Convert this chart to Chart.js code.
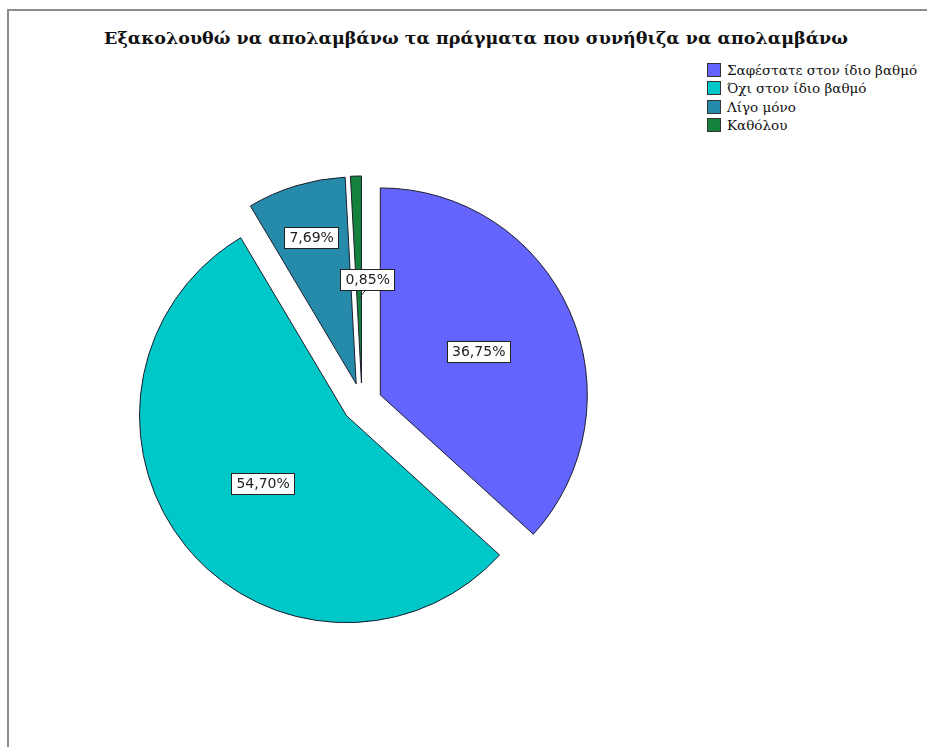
<!DOCTYPE html>
<html>
<head>
<meta charset="utf-8">
<script src="https://cdn.jsdelivr.net/npm/chart.js@4"></script>
<style>
  body { margin: 0; background: #fff; }
  #wrap { position: relative; width: 927px; height: 747px; overflow: hidden; }
  #frame { position: absolute; left: 7px; top: 9px; width: 1000px; height: 1000px;
           border-left: 2px solid #8c8c8c; border-top: 2px solid #8c8c8c; }
  #title { position: absolute; left: 0; top: 28px; width: 952px; text-align: center;
           font: bold 17.5px "DejaVu Serif", serif; color: #111; white-space: nowrap; }
  #legend { position: absolute; left: 707px; top: 61px; font: 13.5px "DejaVu Serif", serif; color: #111; }
  #legend div { height: 18.3px; line-height: 18px; white-space: nowrap; }
  #legend span { display: inline-block; width: 12px; height: 12px; border: 1px solid #333;
                 vertical-align: -2px; margin-right: 6px; }
  canvas { position: absolute; left: 0; top: 0; }
</style>
</head>
<body>
<div id="wrap">
  <div id="frame"></div>
  <div id="title">Εξακολουθώ να απολαμβάνω τα πράγματα που συνήθιζα να απολαμβάνω</div>
  <div id="legend"></div>
  <canvas id="pieChart" width="927" height="747"></canvas>
</div>
<script>
const answerLabels = ['Σαφέστατε στον ίδιο βαθμό', 'Όχι στον ίδιο βαθμό', 'Λίγο μόνο', 'Καθόλου'];
const percentValues = [36.75, 54.70, 7.69, 0.85];
const sliceColors = ['#6464ff', '#00c8c8', '#268aaa', '#14823c'];

// legend rows
const legendBox = document.getElementById('legend');
answerLabels.forEach((label, i) => {
  const row = document.createElement('div');
  row.innerHTML = '<span style="background:' + sliceColors[i] + '"></span>' + label;
  legendBox.appendChild(row);
});

// every slice pulled out from the centre along its own bisector
const explodePlugin = {
  id: 'explode',
  beforeDatasetDraw(chart, args, opts) {
    const ctx = chart.ctx;
    args.meta.data.forEach(arc => {
      const mid = (arc.startAngle + arc.endAngle) / 2;
      ctx.save();
      ctx.translate(Math.cos(mid) * opts.distance, Math.sin(mid) * opts.distance);
      arc.draw(ctx);
      ctx.restore();
    });
    return false;
  }
};

// boxed percentage labels
const boxLabelPlugin = {
  id: 'boxLabels',
  afterDatasetsDraw(chart, args, opts) {
    const ctx = chart.ctx;
    const dist = chart.options.plugins.explode.distance;
    const meta = chart.getDatasetMeta(0);
    ctx.save();
    ctx.font = opts.font;
    ctx.textAlign = 'center';
    ctx.textBaseline = 'middle';
    meta.data.forEach((arc, i) => {
      const mid = (arc.startAngle + arc.endAngle) / 2;
      const cos = Math.cos(mid), sin = Math.sin(mid);
      const r = dist + arc.outerRadius * opts.radius[i];
      const x = arc.x + cos * r + opts.shiftX[i];
      const y = arc.y + sin * r;
      const text = percentValues[i].toFixed(2).replace('.', ',') + '%';
      const w = ctx.measureText(text).width + 10;
      const h = 21;
      if (opts.leader[i]) {
        const lr = dist + arc.outerRadius * opts.leader[i];
        ctx.strokeStyle = '#333';
        ctx.lineWidth = 1;
        ctx.beginPath();
        ctx.moveTo(x - 2, y + h / 2);
        ctx.lineTo(arc.x + cos * lr, arc.y + sin * lr);
        ctx.stroke();
      }
      ctx.fillStyle = '#fff';
      ctx.fillRect(Math.round(x - w / 2) + 0.5, Math.round(y - h / 2) + 0.5, Math.round(w), h);
      ctx.strokeStyle = '#222';
      ctx.lineWidth = 1;
      ctx.strokeRect(Math.round(x - w / 2) + 0.5, Math.round(y - h / 2) + 0.5, Math.round(w), h);
      ctx.fillStyle = '#222';
      ctx.fillText(text, x, y + 1);
    });
    ctx.restore();
  }
};

new Chart(document.getElementById('pieChart'), {
  type: 'pie',
  data: {
    labels: answerLabels,
    datasets: [{
      data: percentValues,
      backgroundColor: sliceColors,
      borderColor: '#1c1c2c',
      borderWidth: 1
    }]
  },
  options: {
    responsive: false,
    animation: false,
    events: [],
    radius: 207,
    layout: {
      padding: { left: 0, right: 203, top: 59, bottom: 0 }
    },
    plugins: {
      legend: { display: false },
      tooltip: { enabled: false },
      explode: { distance: 20 },
      boxLabels: {
        font: '14px "DejaVu Sans", sans-serif',
        radius: [0.52, 0.52, 0.74, 0.5],
        shiftX: [0, 0, 0, 9],
        leader: [0, 0, 0, 0.41]
      }
    }
  },
  plugins: [explodePlugin, boxLabelPlugin]
});
</script>
</body>
</html>
